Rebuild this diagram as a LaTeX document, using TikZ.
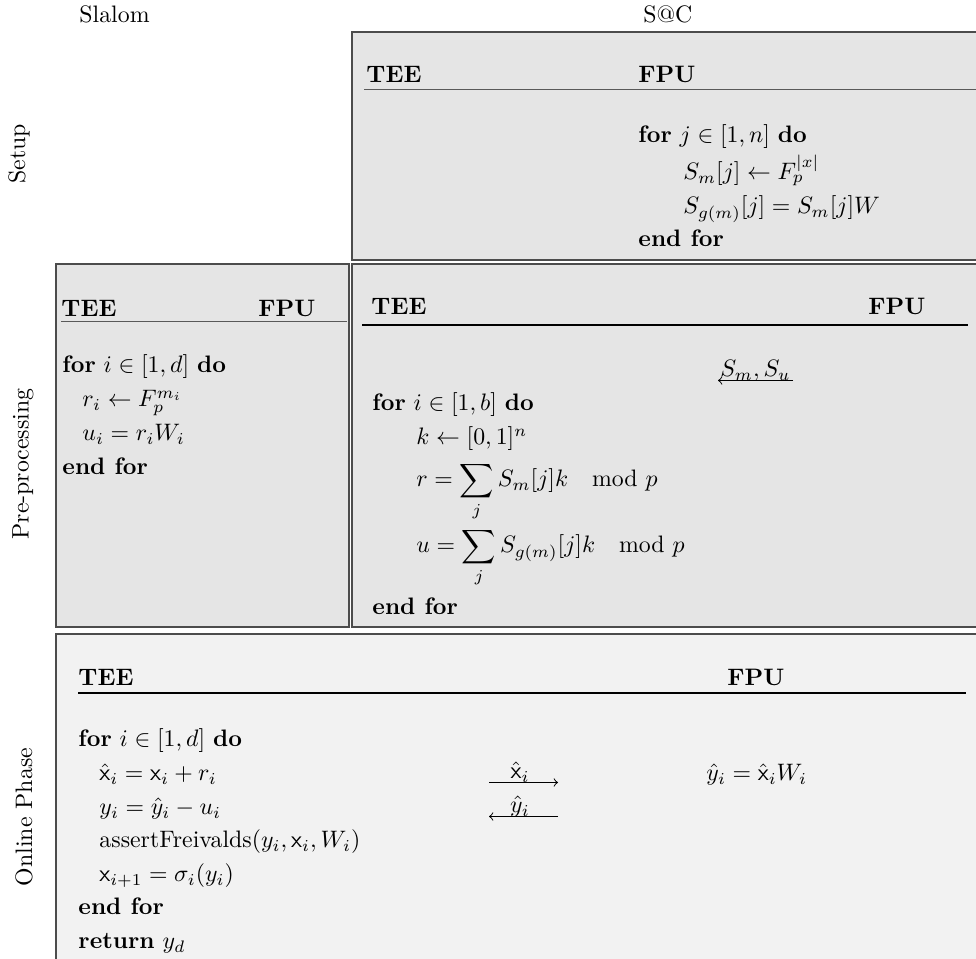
\documentclass[tikz,border=0pt]{standalone}
\usepackage{amsmath}
\begin{document}
\begin{tikzpicture}[x=0.42pt,y=-0.42pt,
  every node/.style={inner sep=0pt,anchor=base west},
  boxa/.style={draw=black!70,line width=0.7pt,fill=gray!20},
  boxb/.style={draw=black!70,line width=0.7pt,fill=gray!10},
  grule/.style={line width=0.45pt,draw=black!65},
  krule/.style={line width=0.45pt,draw=black},
  hdr/.style={font=\bfseries},
  side/.style={rotate=90,anchor=center},
  msg/.style={line width=0.4pt,->},
  lbl/.style={anchor=base}]
\useasboundingbox (0,0) rectangle (976,959);
\clip (0,0) rectangle (976,959);

% column and row titles
\node (slalom) at (79,23) {Slalom};
\node (sac) at (643,23) {S@C};
\node[side] (lsetup) at (19,154) {Setup};
\node[side] (lpre) at (23,464) {Pre-processing};
\node[side] (lon) at (24,817) {Online Phase};

% boxes
\draw[boxa] (352,32) rectangle (1000,260);
\draw[boxa] (56,264) rectangle (349,627);
\draw[boxa] (352,264) rectangle (1000,627);
\draw[boxb] (56,634) rectangle (1000,980);

% Setup (S@C)
\node[hdr] (stee) at (366,83) {TEE};
\node[hdr] (sfpu) at (638,83) {FPU};
\draw[grule] (364,89.5) -- (990,89.5);
\node (s1) at (638,143) {\textbf{for} $j\in[1,n]$ \textbf{do}};
\node (s2) at (683,180) {$S_m[j]\leftarrow F_p^{|x|}$};
\node (s3) at (683,214) {$S_{g(m)}[j] = S_m[j]W$};
\node (s4) at (638,247) {\textbf{end for}};

% Pre-processing (Slalom)
\node[hdr] (ptee) at (61,317) {TEE};
\node[hdr] (pfpu) at (258,317) {FPU};
\draw[grule] (61,321.5) -- (347,321.5);
\node (p1) at (62,373) {\textbf{for} $i\in[1,d]$ \textbf{do}};
\node (p2) at (82,407) {$r_i\leftarrow F_p^{m_i}$};
\node (p3) at (82,441) {$u_i = r_iW_i$};
\node (p4) at (62,475) {\textbf{end for}};

% Pre-processing (S@C)
\node[hdr] (qtee) at (371,315) {TEE};
\node[hdr] (qfpu) at (868,315) {FPU};
\draw[krule] (362,325) -- (968,325);
\coordinate (smr) at (793,380.5);
\coordinate (sml) at (718,380.5);
\draw[msg] (smr) -- (sml);
\node[lbl] (smlbl) at (755.5,377) {$S_m, S_u$};
\node (q1) at (372,411) {\textbf{for} $i\in[1,b]$ \textbf{do}};
\node (q2) at (416,445) {$k\leftarrow[0,1]^n$};
\node (q3) at (416,487) {$\displaystyle r=\sum_j S_m[j]k\quad\mathrm{mod}\,\,p$};
\node (q4) at (416,553) {$\displaystyle u=\sum_j S_{g(m)}[j]k\quad\mathrm{mod}\,\,p$};
\node (q5) at (372,615) {\textbf{end for}};

% Online phase
\node[hdr] (otee) at (78,686) {TEE};
\node[hdr] (ofpu) at (727,686) {FPU};
\draw[krule] (78,693) -- (966,693);
\node (o1) at (78,747) {\textbf{for} $i\in[1,d]$ \textbf{do}};
\node (o2) at (99,781) {$\hat{\mathsf{x}}_i = \mathsf{x}_i + r_i$};
\node (o3) at (99,815) {$y_i = \hat{y}_i - u_i$};
\node (o4) at (99,848) {assertFreivalds$(y_i, \mathsf{x}_i, W_i)$};
\node (o5) at (99,882) {$\mathsf{x}_{i+1} = \sigma_i(y_i)$};
\node (o6) at (78,915) {\textbf{end for}};
\node (o7) at (78,949) {\textbf{return} $y_d$};
\node (f1) at (706,781) {$\hat{y}_i = \hat{\mathsf{x}}_i W_i$};
\coordinate (xa) at (489,782.5);
\coordinate (xb) at (558,782.5);
\draw[msg] (xa) -- (xb);
\node[lbl] (xlbl) at (520,779) {$\hat{\mathsf{x}}_i$};
\coordinate (ya) at (558,816.5);
\coordinate (yb) at (489,816.5);
\draw[msg] (ya) -- (yb);
\node[lbl] (ylbl) at (520,813) {$\hat{y}_i$};
\end{tikzpicture}
\end{document}
